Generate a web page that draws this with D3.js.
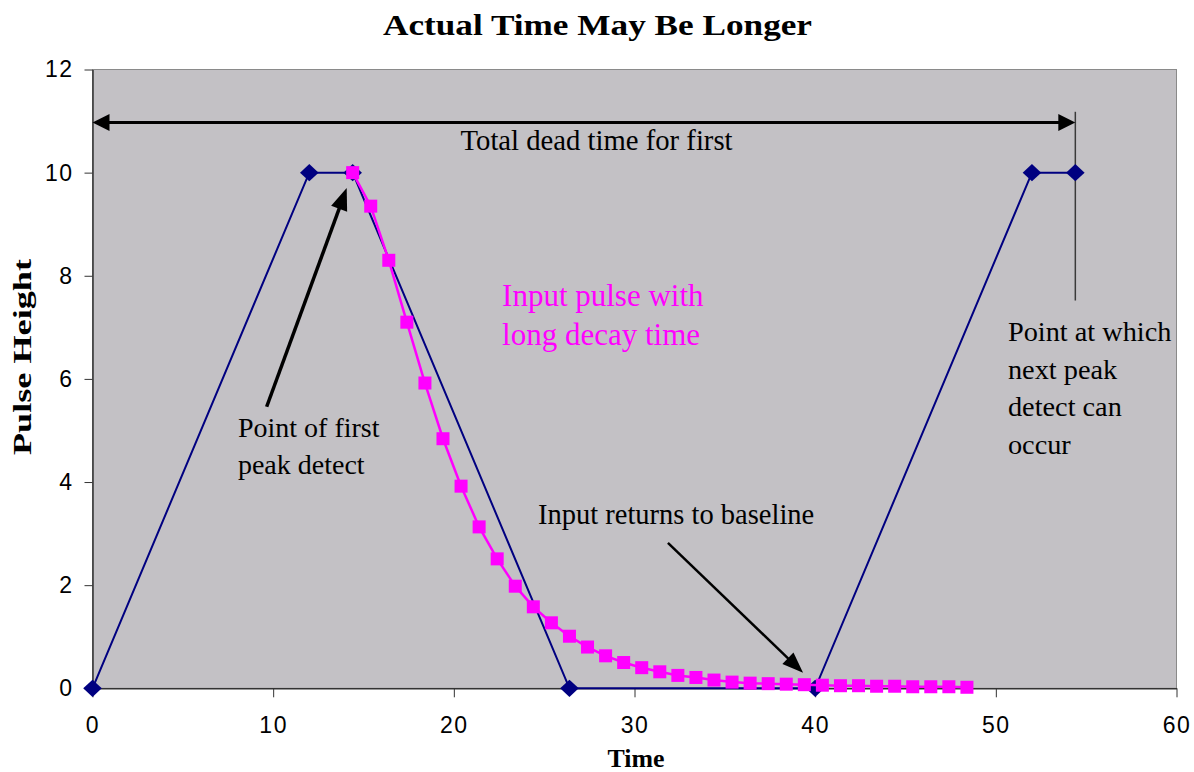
<!DOCTYPE html>
<html>
<head>
<meta charset="utf-8">
<script src="https://cdn.jsdelivr.net/npm/d3@7"></script>
<style>
  body { margin: 0; background: #fff; }
  .serif { font-family: "Liberation Serif", "Times New Roman", serif; }
  .tick text { font-family: "Liberation Sans", Arial, sans-serif; font-size: 23px; fill: #000; letter-spacing: 1.5px; }
</style>
</head>
<body>
<div id="chart"></div>
<script>
// Square-shaped shaped output (navy) vs. long-decay input pulse (magenta)
const shapedTime = [0, 12, 14.4, 26.4, 40, 52, 54.4];
const shapedHeight = [0, 10, 10, 0, 0, 10, 10];

const pulseTime = [14.4, 15.4, 16.4, 17.4, 18.4, 19.4, 20.4, 21.4, 22.4, 23.4,
  24.4, 25.4, 26.4, 27.4, 28.4, 29.4, 30.4, 31.4, 32.4, 33.4,
  34.4, 35.4, 36.4, 37.4, 38.4, 39.4, 40.4, 41.4, 42.4, 43.4,
  44.4, 45.4, 46.4, 47.4, 48.4];
const pulseHeight = [10, 9.35, 8.3, 7.1, 5.92, 4.84, 3.92, 3.13, 2.51, 1.98,
  1.58, 1.27, 1.01, 0.8, 0.63, 0.5, 0.4, 0.32, 0.25, 0.21,
  0.16, 0.12, 0.1, 0.09, 0.08, 0.07, 0.06, 0.05, 0.05, 0.04,
  0.04, 0.03, 0.03, 0.03, 0.02];

const xTicks = [0, 10, 20, 30, 40, 50, 60];
const yTicks = [0, 2, 4, 6, 8, 10, 12];

function pulseChart() {
  let margin = { top: 69.5, left: 92.5, right: 17.5, bottom: 83.7 },
    width = 1194 - margin.left - margin.right,
    height = 772 - margin.top - margin.bottom,
    xScale = d3.scaleLinear().domain([0, 60]).range([0, width]),
    yScale = d3.scaleLinear().domain([0, 12]).range([height, 0]);

  function arrowHead(g, x1, y1, x2, y2, len, half) {
    // filled triangle with its tip at (x2, y2)
    let a = Math.atan2(y2 - y1, x2 - x1),
      bx = x2 - len * Math.cos(a),
      by = y2 - len * Math.sin(a),
      px = -Math.sin(a) * half,
      py = Math.cos(a) * half;
    g.append("path")
      .attr("d", "M" + x2 + "," + y2 + "L" + (bx + px) + "," + (by + py) + "L" + (bx - px) + "," + (by - py) + "Z")
      .attr("fill", "#000");
  }

  function arrow(g, d, lw, len, half, both) {
    let x1 = xScale(d[0]), y1 = yScale(d[1]), x2 = xScale(d[2]), y2 = yScale(d[3]);
    let a = Math.atan2(y2 - y1, x2 - x1);
    let s = both ? len - 2 : 0;
    g.append("line")
      .attr("x1", x1 + s * Math.cos(a)).attr("y1", y1 + s * Math.sin(a))
      .attr("x2", x2 - (len - 2) * Math.cos(a)).attr("y2", y2 - (len - 2) * Math.sin(a))
      .attr("stroke", "#000").attr("stroke-width", lw);
    arrowHead(g, x1, y1, x2, y2, len, half);
    if (both) arrowHead(g, x2, y2, x1, y1, len, half);
  }

  function chart(selector) {
    let svg = d3.select(selector)
      .append("svg")
        .attr("width", 1194)
        .attr("height", 772);

    // Title
    svg.append("text")
      .attr("class", "serif")
      .attr("x", 597.5).attr("y", 35)
      .attr("text-anchor", "middle")
      .attr("font-size", 30).attr("font-weight", "bold")
      .attr("textLength", 429).attr("lengthAdjust", "spacingAndGlyphs")
      .text("Actual Time May Be Longer");

    let g = svg.append("g")
      .attr("transform", "translate(" + margin.left + "," + margin.top + ")");

    // plot area
    g.append("rect")
      .attr("width", width).attr("height", height)
      .attr("fill", "#c3c1c5")
      .attr("stroke", "#8a8a8a").attr("stroke-width", 1);

    // Axes
    let xAxis = g.append("g")
      .attr("transform", "translate(0," + height + ")")
      .call(d3.axisBottom(xScale).tickValues(xTicks).tickSize(9).tickPadding(19).tickSizeOuter(0));
    xAxis.select(".domain").attr("stroke", "#333").attr("stroke-width", 1.5);
    xAxis.selectAll(".tick line").attr("stroke", "#333");

    let yAxis = g.append("g")
      .call(d3.axisLeft(yScale).tickValues(yTicks).tickSize(8).tickPadding(11).tickSizeOuter(0));
    yAxis.select(".domain").attr("stroke", "#333").attr("stroke-width", 1.5);
    yAxis.selectAll(".tick line").attr("stroke", "#333");

    // axis labels
    svg.append("text")
      .attr("class", "serif")
      .attr("x", 636).attr("y", 767)
      .attr("text-anchor", "middle")
      .attr("font-size", 25).attr("font-weight", "bold")
      .attr("textLength", 57).attr("lengthAdjust", "spacingAndGlyphs")
      .text("Time");

    svg.append("text")
      .attr("class", "serif")
      .attr("transform", "translate(31,357) rotate(-90)")
      .attr("text-anchor", "middle")
      .attr("font-size", 26).attr("font-weight", "bold")
      .attr("textLength", 196).attr("lengthAdjust", "spacingAndGlyphs")
      .text("Pulse Height");

    // dead-time marker line and arrows
    let ann = g.append("g");
    ann.append("line")
      .attr("x1", xScale(54.4)).attr("x2", xScale(54.4))
      .attr("y1", yScale(11.18)).attr("y2", yScale(7.52))
      .attr("stroke", "#3a3a3a").attr("stroke-width", 1.5);
    arrow(ann, [0, 10.97, 54.4, 10.97], 3, 17, 8.5, true);
    arrow(ann, [9.64, 5.46, 14.07, 9.7], 3.5, 22, 8.5, false);
    arrow(ann, [31.85, 2.82, 39.33, 0.3], 2.5, 21, 8, false);

    // series
    let shaped = shapedTime.map((t, i) => ({ t: t, v: shapedHeight[i] }));
    let pulse = pulseTime.map((t, i) => ({ t: t, v: pulseHeight[i] }));
    let line = d3.line().x(d => xScale(d.t)).y(d => yScale(d.v));

    g.append("path")
      .datum(shaped)
      .attr("d", line)
      .attr("fill", "none")
      .attr("stroke", "#000080")
      .attr("stroke-width", 2);

    g.append("g")
      .attr("fill", "#000080")
      .selectAll("path")
      .data(shaped)
      .enter().append("path")
        .attr("d", d3.symbol().type(d3.symbolDiamond2).size(220))
        .attr("transform", d => "translate(" + xScale(d.t) + "," + yScale(d.v) + ") scale(1,0.93)");

    g.append("path")
      .datum(pulse)
      .attr("d", line)
      .attr("fill", "none")
      .attr("stroke", "#ff00ff")
      .attr("stroke-width", 2.5);

    g.append("g")
      .attr("fill", "#ff00ff")
      .selectAll("rect")
      .data(pulse)
      .enter().append("rect")
        .attr("x", d => xScale(d.t) - 6.5)
        .attr("y", d => yScale(d.v) - 6.5)
        .attr("width", 13)
        .attr("height", 13);

    // annotation texts
    let notes = [
      { x: 27.9, y: 10.44, anchor: "middle", color: "#000", size: 28.7, lines: ["Total dead time for first"] },
      { x: 22.67, y: 7.41, anchor: "start", color: "#ff00ff", size: 31, lines: ["Input pulse with", "long decay time"] },
      { x: 8.05, y: 4.88, anchor: "start", color: "#000", size: 28, lines: ["Point of first", "peak detect"] },
      { x: 24.66, y: 3.19, anchor: "start", color: "#000", size: 28.5, lines: ["Input returns to baseline"] },
      { x: 50.67, y: 6.73, anchor: "start", color: "#000", size: 28.3, lines: ["Point at which", "next peak", "detect can", "occur"] }
    ];
    notes.forEach(n => {
      let t = g.append("text")
        .attr("class", "serif")
        .attr("x", xScale(n.x)).attr("y", yScale(n.y))
        .attr("text-anchor", n.anchor)
        .attr("font-size", n.size)
        .attr("fill", n.color);
      n.lines.forEach((s, i) => {
        t.append("tspan")
          .attr("x", xScale(n.x))
          .attr("dy", i === 0 ? 0 : (n.size === 31 ? 39 : 37.5))
          .text(s);
      });
    });

    return chart;
  }

  return chart;
}

pulseChart()("#chart");
</script>
</body>
</html>
